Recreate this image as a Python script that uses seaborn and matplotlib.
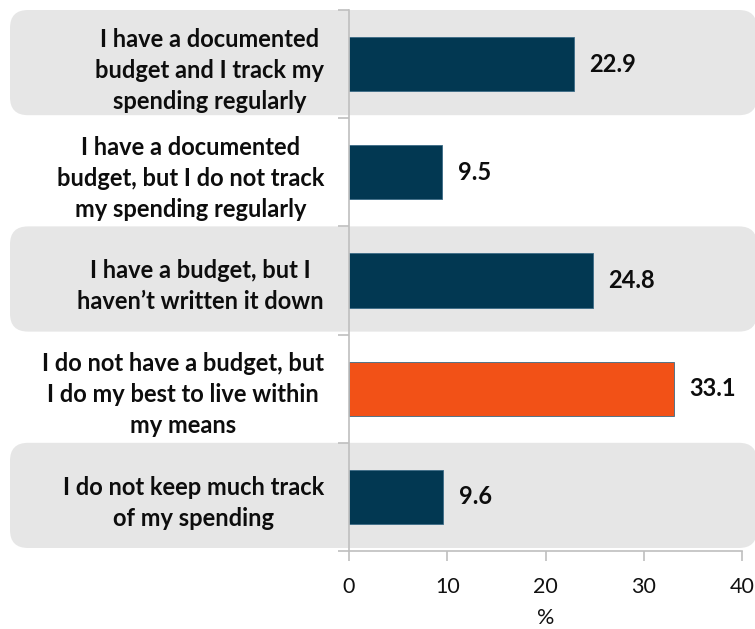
import matplotlib
matplotlib.use("Agg")
import matplotlib.pyplot as plt
import seaborn as sns
import pandas as pd
import numpy as np
from matplotlib.patches import FancyBboxPatch
from matplotlib.transforms import IdentityTransform

categories = [
    "I have a documented\nbudget and I track my\nspending regularly",
    "I have a documented\nbudget, but I do not track\nmy spending regularly",
    "I have a budget, but I\nhaven\u2019t written it down",
    "I do not have a budget, but\nI do my best to live within\nmy means",
    "I do not keep much track\nof my spending",
]
values = [22.9, 9.5, 24.8, 33.1, 9.6]
bar_colors = ["#023852", "#023852", "#023852", "#F25117", "#023852"]
x_ticks = [0, 10, 20, 30, 40]

sns.set_theme(style="white")
plt.rcParams["font.family"] = ["Lato", "DejaVu Sans"]

df = pd.DataFrame({"category": categories, "value": values})

fig = plt.figure(figsize=(7.55, 6.29), dpi=100)
ax = fig.add_axes([349 / 755, 1 - 551 / 629, (742 - 349) / 755, (551 - 10) / 629])
ax.set_facecolor("none")
ax.set_zorder(2)
fig.patch.set_facecolor("white")

sns.barplot(data=df, x="value", y="category", hue="category",
            palette=bar_colors, legend=False, width=0.5, ax=ax,
            saturation=1, edgecolor="#3b6b86", linewidth=0.6, zorder=3)

ax.set_xlim(0, 40)
ax.set_ylim(len(categories) - 0.5, -0.5)
ax.set_xticks(x_ticks)
ax.set_xticklabels([str(t) for t in x_ticks], fontsize=15.5, color="#111111")
ax.set_xlabel("%", fontsize=15.5, color="#111111", labelpad=8)
ax.set_ylabel("")

ax.set_yticks(range(len(categories)))
ax.set_yticklabels(categories, fontsize=17, fontweight="bold",
                   ha="right", multialignment="center", linespacing=1.42,
                   color="#0d0d0d")
ax.tick_params(axis="y", which="major", left=False, length=0, pad=18)
ax.set_yticks(np.arange(-0.5, len(categories)), minor=True)
ax.tick_params(axis="y", which="minor", left=True, length=8, color="#bfbfbf",
               width=1.2, direction="out")
ax.tick_params(axis="x", which="major", bottom=True, length=7, color="#bfbfbf",
               width=1.2, direction="out", pad=12)

for side in ["top", "right"]:
    ax.spines[side].set_visible(False)
for side in ["left", "bottom"]:
    ax.spines[side].set_color("#bfbfbf")
    ax.spines[side].set_linewidth(1.2)
    ax.spines[side].set_zorder(4)

for i, v in enumerate(values):
    ax.annotate(f"{v:.1f}", xy=(v, i), xytext=(11, 0), textcoords="offset points",
                ha="left", va="center", fontsize=17, fontweight="bold",
                color="#0d0d0d", zorder=5)

# rounded shaded bands behind alternate rows
fig.canvas.draw()
for i in range(0, len(categories), 2):
    y_top = ax.transData.transform((0, i - 0.5))[1]
    y_bot = ax.transData.transform((0, i + 0.5))[1]
    lo, hi = min(y_top, y_bot) + 3, max(y_top, y_bot)
    band = FancyBboxPatch((10 + 18, lo + 18), 757 - 10 - 36, hi - lo - 36,
                          boxstyle="round,pad=18", transform=IdentityTransform(),
                          facecolor="#e6e6e6", edgecolor="none", zorder=-1)
    fig.patches.append(band)

fig.savefig("out.png", dpi=100)
